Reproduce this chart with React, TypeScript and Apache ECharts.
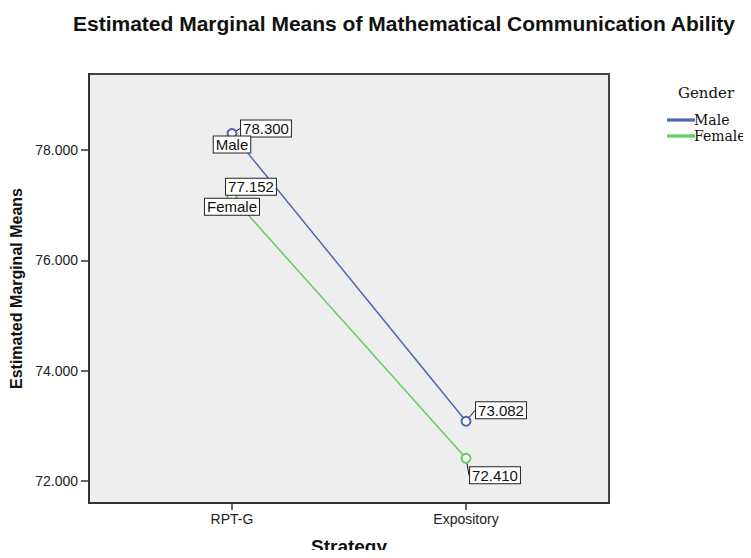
import React, { useEffect, useRef } from "react";
import * as echarts from "echarts";

const strategies = ["RPT-G", "Expository"];
const maleMeans = [78.3, 73.082];
const femaleMeans = [77.152, 72.41];
const yTicks = [72, 74, 76, 78];

const MALE = "#4f63bd";
const FEMALE = "#5fcf5f";
const SANS = "Liberation Sans, Arial, sans-serif";
const SERIF = "DejaVu Serif, Liberation Serif, serif";

export default function App() {
  const ref = useRef<HTMLDivElement>(null);
  useEffect(() => {
    if (!ref.current) return;
    const chart = echarts.init(ref.current, undefined, { renderer: "svg" });
    const xy = (vals: number[]) => vals.map((v, i) => [i, v]);
    const boxLabel = {
      show: true,
      position: "inside",
      color: "#111",
      opacity: 1,
      fontFamily: SANS,
      fontSize: 15,
      backgroundColor: "#fff",
      borderColor: "#222",
      borderWidth: 1,
      padding: [0, 2, 0, 2],
      lineHeight: 16,
    };
    const valueOffsets: Record<string, number[][]> = {
      Male: [[34, -5], [35, -11]],
      Female: [[19, -10], [29, 17]],
    };
    const nameOffsets: Record<string, number[]> = {
      MaleName: [0, 11],
      FemaleName: [0, 10],
    };
    const lineSeries = (name: string, vals: number[], color: string) => ({
      type: "line",
      name,
      data: xy(vals),
      symbol: "emptyCircle",
      symbolSize: 9,
      lineStyle: { color, width: 1.5 },
      itemStyle: { color, borderColor: color, borderWidth: 1 },
      label: { ...boxLabel, formatter: (p: any) => p.value[1].toFixed(3) },
      labelLine: { show: true, lineStyle: { color: "#111", width: 1 } },
      labelLayout: (p: any) => {
        const o = valueOffsets[name][p.dataIndex];
        return { dx: o[0], dy: o[1] };
      },
      z: 3,
    });
    const nameSeries = (id: string, label: string, vals: number[]) => ({
      type: "scatter",
      name: id,
      data: [[0, vals[0]]],
      symbolSize: 1,
      itemStyle: { color: "transparent", opacity: 1 },
      label: { ...boxLabel, formatter: label },
      labelLayout: () => ({ dx: nameOffsets[id][0], dy: nameOffsets[id][1] }),
      z: 4,
    });
    chart.setOption({
      animation: false,
      backgroundColor: "#fff",
      title: {
        text: "Estimated Marginal Means of Mathematical Communication Ability",
        left: 399,
        textAlign: "center",
        top: 8,
        textStyle: {
          fontFamily: SANS,
          fontWeight: "bold",
          fontSize: 21,
          color: "#111",
        },
      },
      legend: {
        data: ["Male", "Female"],
        orient: "vertical",
        left: 662,
        top: 108,
        itemWidth: 26,
        itemHeight: 1.2,
        itemGap: 2,
        icon: "rect",
        textStyle: {
          fontFamily: SERIF,
          fontSize: 14,
          lineHeight: 14,
          color: "#111",
          padding: [0, 0, 0, -5],
        },
      },
      graphic: [
        {
          type: "text",
          x: 706,
          y: 93,
          style: {
            text: "Gender",
            fontFamily: SERIF,
            fontSize: 15,
            fill: "#111",
            textAlign: "center",
            textVerticalAlign: "middle",
          },
        },
      ],
      grid: {
        left: 89,
        top: 74,
        right: 142,
        bottom: 55,
        outerBoundsMode: "none",
        containLabel: false,
        show: true,
        backgroundColor: "#eeeeee",
        borderColor: "#444",
        borderWidth: 2,
      },
      xAxis: {
        type: "value",
        min: -0.611,
        max: 1.611,
        name: "Strategy",
        nameLocation: "middle",
        nameGap: 34,
        nameTextStyle: {
          fontFamily: SANS,
          fontWeight: "bold",
          fontSize: 19,
          color: "#111",
        },
        splitLine: { show: false },
        axisLine: { show: true, onZero: false, lineStyle: { color: "#333", width: 2 } },
        axisTick: {
          show: true,
          customValues: [0, 1],
          length: 7,
          lineStyle: { color: "#333", width: 1.5 },
        },
        axisLabel: {
          customValues: [0, 1],
          formatter: (v: number) => strategies[Math.round(v)] ?? "",
          fontFamily: SANS,
          fontSize: 14,
          color: "#222",
          margin: 9,
        },
      },
      yAxis: {
        type: "value",
        min: 71.6,
        max: 79.38,
        name: "Estimated Marginal Means",
        nameLocation: "middle",
        nameGap: 64,
        nameTextStyle: {
          fontFamily: SANS,
          fontWeight: "bold",
          fontSize: 16,
          color: "#111",
        },
        splitLine: { show: false },
        axisLine: { show: true, onZero: false, lineStyle: { color: "#333", width: 2 } },
        axisTick: {
          show: true,
          customValues: yTicks,
          length: 8,
          lineStyle: { color: "#333", width: 1.5 },
        },
        axisLabel: {
          customValues: yTicks,
          formatter: (v: number) => v.toFixed(3),
          fontFamily: SANS,
          fontSize: 14,
          color: "#222",
          margin: 11,
        },
      },
      series: [
        lineSeries("Male", maleMeans, MALE),
        lineSeries("Female", femaleMeans, FEMALE),
        nameSeries("MaleName", "Male", maleMeans),
        nameSeries("FemaleName", "Female", femaleMeans),
      ],
    });
    return () => chart.dispose();
  }, []);
  return <div ref={ref} style={{ width: 751, height: 558, margin: -8 }} />;
}
